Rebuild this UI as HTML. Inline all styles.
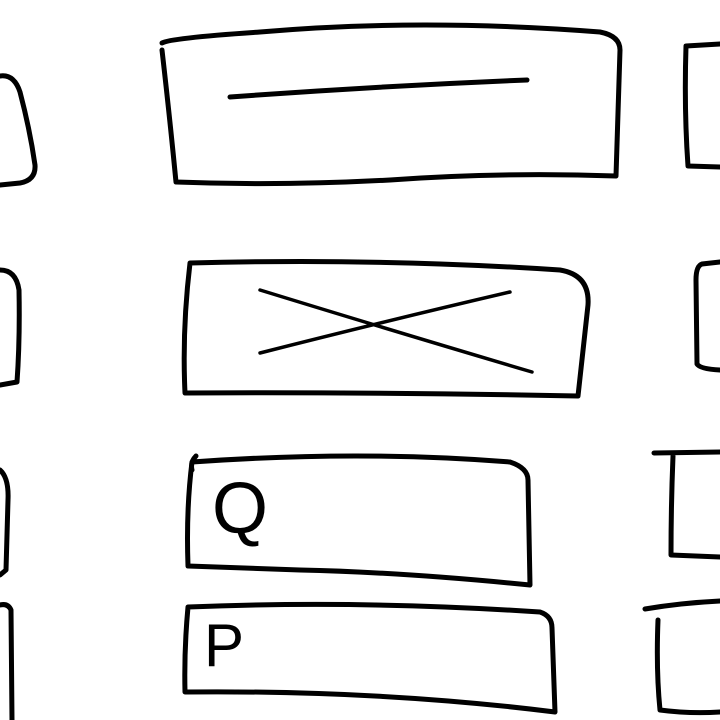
<!DOCTYPE html>
<html>
<head>
<meta charset="utf-8">
<style>
  html, body { margin: 0; padding: 0; background: #fff; }
  svg { display: block; }
  .s { fill: none; stroke: #000; stroke-width: 5; stroke-linecap: round; stroke-linejoin: round; }
  .t { stroke-width: 3.5; }
</style>
</head>
<body>
<svg width="720" height="720" viewBox="0 0 720 720">
  <!-- Row 1 -->
  <path class="s"
        d="M0,76 Q14,74 20,92 Q30,130 35,165 Q36,180 20,183 L0,185"/>
  <path class="s"
        d="M162,43 Q170,38 260,32 Q420,18 600,32 Q620,36 620,50 L616,176 Q500,172 390,180 Q280,186 176,182 Q170,120 162,50"/>
  <path class="s"
        d="M230,97 Q380,86 527,80"/>
  <path class="s"
        d="M720,44 L686,46 Q684,110 688,166 L720,167"/>

  <!-- Row 2 -->
  <path class="s"
        d="M0,270 Q16,270 19,290 Q20,340 17,382 L0,385"/>
  <path class="s"
        d="M190,263 Q380,258 560,270 Q590,275 588,305 L578,396 Q380,392 185,393 Q182,330 190,263"/>
  <path class="s t"
        d="M260,290 Q390,330 532,372"/>
  <path class="s t"
        d="M260,353 Q390,320 510,292"/>
  <path class="s"
        d="M720,262 L702,264 Q696,266 696,280 L697,364 Q700,369 720,370"/>

  <!-- Row 3 -->
  <path class="s"
        d="M0,470 Q9,478 8,500 L6,570 L0,575"/>
  <path class="s"
        d="M196,456 Q190,462 192,470 M192,462 Q360,450 510,462 Q528,468 528,480 L530,585 Q400,572 300,570 Q240,568 188,566 Q186,510 192,462"/>
  <text x="212" y="533" font-family="Liberation Sans, sans-serif" font-size="72" font-weight="400" fill="#000">Q</text>
  <path class="s"
        d="M654,453 L720,452 M673,456 Q671,505 671,555 L720,557"/>

  <!-- Row 4 -->
  <path class="s"
        d="M0,605 Q8,603 11,610 L12,720"/>
  <path class="s"
        d="M188,607 Q360,600 540,612 Q552,616 552,628 L555,712 Q380,690 185,692 Q184,650 188,607"/>
  <text x="204" y="666" font-family="Liberation Sans, sans-serif" font-size="60" font-weight="400" fill="#000">P</text>
  <path class="s"
        d="M645,609 Q680,603 720,601 M658,620 Q656,670 660,710 Q690,714 720,712"/>
</svg>
</body>
</html>
